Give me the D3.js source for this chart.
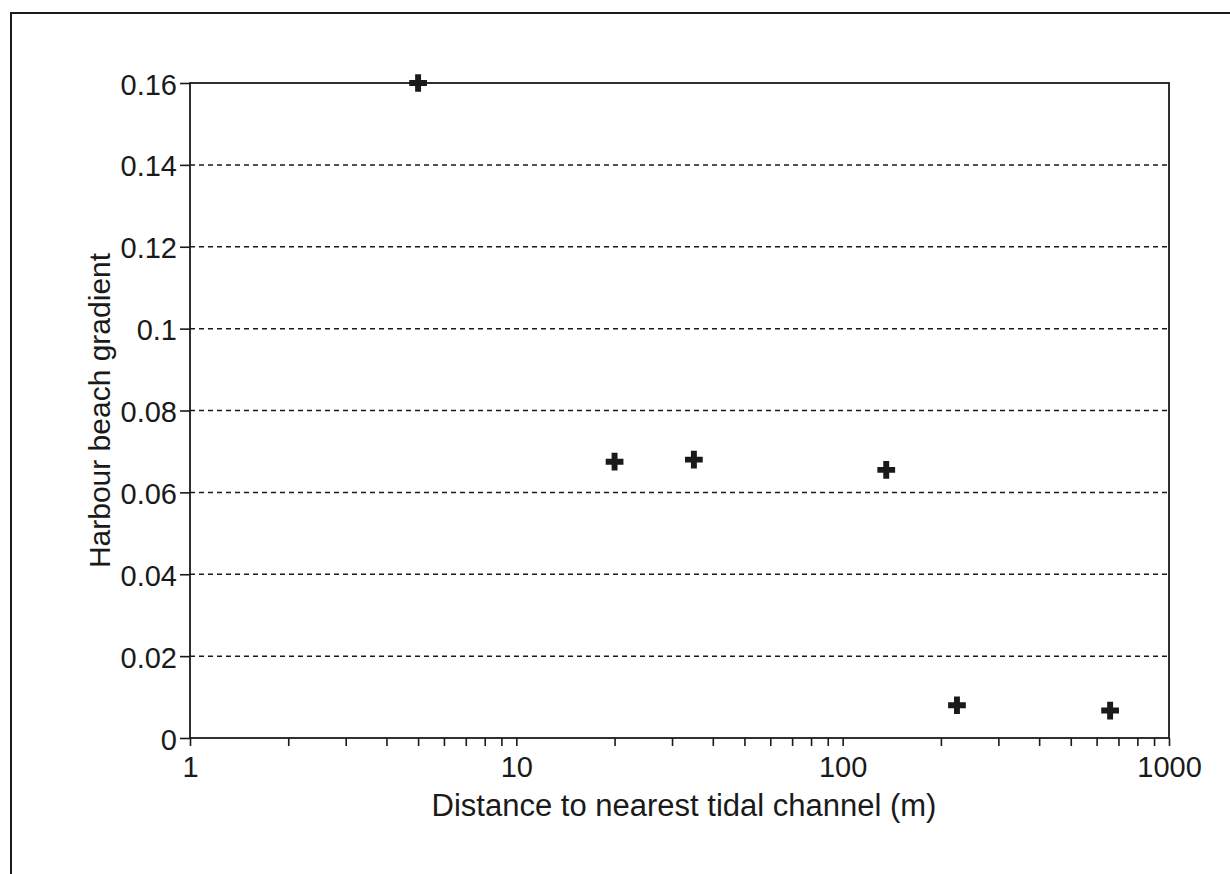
<!DOCTYPE html>
<html>
<head>
<meta charset="utf-8">
<script src="https://cdn.jsdelivr.net/npm/d3@7"></script>
<style>
  html, body { margin: 0; padding: 0; background: #fff; }
  svg { display: block; }
  text { font-family: "Liberation Sans", Arial, Helvetica, sans-serif; fill: #1a1a1a; }
</style>
</head>
<body>
<svg id="chart" width="1230" height="874"></svg>
<script>
// Distance to nearest tidal channel (m) and harbour beach gradient
const distances = [5, 20, 35, 136, 224, 660];
const gradients = [0.160, 0.0675, 0.068, 0.0655, 0.008, 0.0067];

// Axis ticks
const yTicks = [0, 0.02, 0.04, 0.06, 0.08, 0.1, 0.12, 0.14, 0.16];
const yTickLabels = ["0", "0.02", "0.04", "0.06", "0.08", "0.1", "0.12", "0.14", "0.16"];
const xMajorTicks = [1, 10, 100, 1000];
const xTickLabels = ["1", "10", "100", "1000"];

const svg = d3.select("#chart");
const ink = "#1a1a1a";
const tickFont = 29;
const titleFont = 31;

// outer frame (runs past the right and bottom edges)
svg.append("path")
  .attr("d", "M11,880 L11,13 L1240,13")
  .attr("fill", "none").attr("stroke", ink).attr("stroke-width", 2);

const plotLeft = 190, plotRight = 1169, plotTop = 83, plotBottom = 738;

const x = d3.scaleLog().domain([1, 1000]).range([plotLeft, plotRight]);
const y = d3.scaleLinear().domain([0, 0.16]).range([plotBottom, plotTop]);

// dashed gridlines
svg.append("g").selectAll("line")
  .data(yTicks.filter(v => v > 0 && v < 0.16))
  .join("line")
  .attr("x1", plotLeft).attr("x2", plotRight)
  .attr("y1", d => y(d)).attr("y2", d => y(d))
  .attr("stroke", ink).attr("stroke-width", 1.5)
  .attr("stroke-dasharray", "5,4");

// plot box
svg.append("rect")
  .attr("x", plotLeft).attr("y", plotTop)
  .attr("width", plotRight - plotLeft).attr("height", plotBottom - plotTop)
  .attr("fill", "none").attr("stroke", ink).attr("stroke-width", 1.8);

// y axis
const yAxis = d3.axisLeft(y)
  .tickValues(yTicks)
  .tickFormat((d, i) => yTickLabels[i])
  .tickSize(10).tickPadding(3);
const gy = svg.append("g").attr("transform", `translate(${plotLeft},0)`).call(yAxis);
gy.select(".domain").remove();
gy.selectAll(".tick line").attr("stroke", ink).attr("stroke-width", 1.6);
gy.selectAll(".tick text").attr("font-size", tickFont).attr("fill", ink).attr("dy", "0.38em")
  .style("font-family", "'Liberation Sans', Arial, sans-serif");

// x axis: minor ticks for every integer multiple within each decade
const minor = [];
for (let p = 1; p <= 100; p *= 10) for (let k = 2; k <= 9; k++) minor.push(k * p);
const xAxisMinor = d3.axisBottom(x).tickValues(minor).tickFormat("").tickSize(8);
const gxm = svg.append("g").attr("transform", `translate(0,${plotBottom})`).call(xAxisMinor);
gxm.select(".domain").remove();
gxm.selectAll(".tick line").attr("stroke", ink).attr("stroke-width", 1.6);

const xAxis = d3.axisBottom(x)
  .tickValues(xMajorTicks)
  .tickFormat((d, i) => xTickLabels[i])
  .tickSize(8).tickPadding(10);
const gx = svg.append("g").attr("transform", `translate(0,${plotBottom})`).call(xAxis);
gx.select(".domain").remove();
gx.selectAll(".tick line").attr("stroke", ink).attr("stroke-width", 1.6);
gx.selectAll(".tick text").attr("font-size", tickFont).attr("fill", ink)
  .style("font-family", "'Liberation Sans', Arial, sans-serif");

// axis titles
svg.append("text")
  .attr("x", 684).attr("y", 816)
  .attr("text-anchor", "middle").attr("font-size", titleFont)
  .text("Distance to nearest tidal channel (m)");

svg.append("text")
  .attr("transform", `translate(110,${(plotTop + plotBottom) / 2}) rotate(-90)`)
  .attr("text-anchor", "middle").attr("font-size", 30)
  .text("Harbour beach gradient");

// data markers: bold plus signs
const cross = d3.symbol().type(d3.symbolCross).size(175);
svg.append("g").selectAll("path")
  .data(distances.map((d, i) => [d, gradients[i]]))
  .join("path")
  .attr("transform", d => `translate(${x(d[0])},${y(d[1])})`)
  .attr("d", cross)
  .attr("fill", ink);
</script>
</body>
</html>
